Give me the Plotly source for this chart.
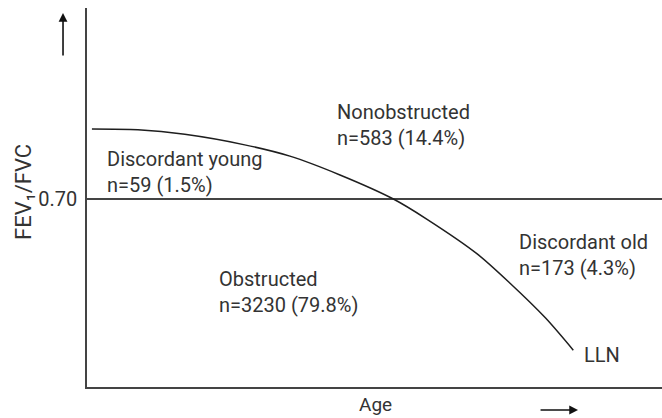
import plotly.graph_objects as go

# Lower limit of normal (LLN) of FEV1/FVC across age (schematic curve)
age = [20.6, 26.2, 31.9, 39.2, 44.7, 50.8, 57.3, 61.4, 67.5, 71.5, 75.8, 79.2]
lln = [0.793, 0.792, 0.786, 0.772, 0.757, 0.732, 0.700, 0.673, 0.627, 0.588, 0.542, 0.499]

# Fixed ratio cut-off
fixed_ratio = 0.70
fixed_ratio_label = "0.70"

# Group labels: (text, x, y)
group_labels = [
    ("Nonobstructed<br>n=583 (14.4%)", 50.2, 0.799),
    ("Discordant young<br>n=59 (1.5%)", 22.2, 0.736),
    ("Obstructed<br>n=3230 (79.8%)", 35.8, 0.576),
    ("Discordant old<br>n=173 (4.3%)", 72.3, 0.626),
    ("LLN", 80.3, 0.4926),
]

x_range = [20, 90]
y_range = [0.45, 0.954]

TEXT = "#333333"
LINE = "#444444"
FONT = "Roboto"

fig = go.Figure()
fig.add_trace(go.Scatter(
    x=age, y=lln, mode="lines",
    line=dict(color="#1e1e1e", width=1.5, shape="spline", smoothing=0.8),
    hoverinfo="skip", showlegend=False,
))

annotations = []
for text, x, y in group_labels:
    annotations.append(dict(
        x=x, y=y, xref="x", yref="y", text=text, showarrow=False,
        xanchor="left", yanchor="middle", align="left",
        font=dict(family=FONT, size=20, color=TEXT),
    ))

# Axis titles
annotations.append(dict(
    x=-0.1113, y=0.5145, xref="paper", yref="paper",
    text="FEV₁/FVC", textangle=-90, showarrow=False,
    xanchor="center", yanchor="middle",
    font=dict(family=FONT, size=22, color=TEXT),
))
annotations.append(dict(
    x=0.501, y=-0.047, xref="paper", yref="paper",
    text="Age", showarrow=False, xanchor="center", yanchor="middle",
    font=dict(family=FONT, size=19, color=TEXT),
))

# Direction arrows
annotations.append(dict(
    x=-0.0417, y=0.987, xref="paper", yref="paper", text="",
    showarrow=True, ax=0, ay=44, arrowhead=2, arrowsize=1.1,
    arrowwidth=1.6, arrowcolor="#111111",
))
annotations.append(dict(
    x=0.854, y=-0.0607, xref="paper", yref="paper", text="",
    showarrow=True, ax=-39, ay=0, arrowhead=2, arrowsize=1.1,
    arrowwidth=1.6, arrowcolor="#111111",
))

fig.update_layout(
    width=662, height=418,
    margin=dict(l=87, r=0, t=8, b=31),
    paper_bgcolor="white", plot_bgcolor="white",
    showlegend=False,
    annotations=annotations,
    xaxis=dict(
        range=x_range, showline=True, linecolor=LINE, linewidth=1.5,
        showgrid=False, zeroline=False, showticklabels=False, ticks="",
        fixedrange=True,
    ),
    yaxis=dict(
        range=y_range, showline=True, linecolor=LINE, linewidth=1.5,
        tickvals=[fixed_ratio], ticktext=[fixed_ratio_label],
        showgrid=True, gridcolor=LINE, gridwidth=1.5, zeroline=False,
        ticks="outside", ticklen=4, tickcolor="rgba(0,0,0,0)",
        tickfont=dict(family=FONT, size=20, color=TEXT),
        fixedrange=True,
    ),
)

fig.write_html("out.html")
